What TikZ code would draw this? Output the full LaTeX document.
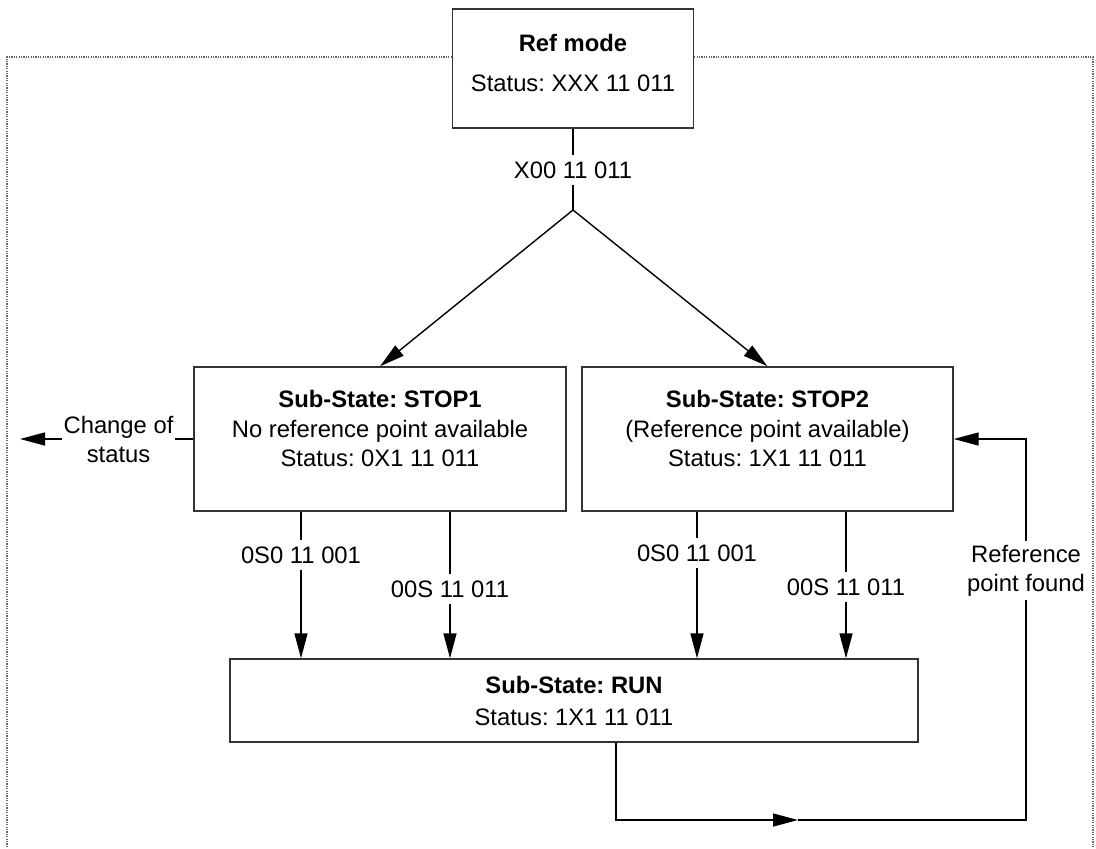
\documentclass[tikz,border=0pt]{standalone}
\usepackage{fontspec}
\setmainfont{Liberation Sans}
\usepackage{tikz}
\usetikzlibrary{arrows.meta, positioning}
\frenchspacing

\begin{document}
\begin{tikzpicture}[
    x=0.5pt, y=-0.5pt, line width=0.7pt,
    every node/.style={font=\fontsize{11.9}{14.5}\selectfont},
    box/.style={draw=black!80, inner sep=0pt},
    txt/.style={align=center, inner sep=0pt},
    lbl/.style={inner xsep=1pt, inner ysep=3pt},
    arrow/.style={-{Triangle[length=12.5pt, width=6.5pt]}},
    frame/.style={draw=black!60, line width=0.6pt, dash pattern=on 0.6pt off 0.6pt}
]
\useasboundingbox (0,0) rectangle (1096,848);

% Ref mode
\node[box, minimum width=120.5pt, minimum height=59.5pt] (refmode) at (573,68.5) {};
\node[txt] (reftxt) at (573,63) {\textbf{Ref mode}\\[5.5pt]Status: XXX 11 011};

% Rahmen
\coordinate (frametl) at (7,57);
\coordinate (frametr) at (1093,57);
\draw[frame] (refmode.west |- frametl) -- (frametl) -- (7,848);
\draw[frame] (refmode.east |- frametr) -- (frametr) -- (1093,848);

% STOP1
\node[box, minimum width=186pt, minimum height=72pt] (stopone) at (380,439) {};
\node[txt] (stoponetxt) at (380,428)
    {\textbf{Sub-State: STOP1}\\[0.5pt]No reference point available\\Status: 0X1 11 011};

% STOP2
\node[box, minimum width=185.5pt, minimum height=72pt] (stoptwo) at (767.5,439) {};
\node[txt] (stoptwotxt) at (767.5,428)
    {\textbf{Sub-State: STOP2}\\[0.5pt](Reference point available)\\Status: 1X1 11 011};

% RUN
\node[box, minimum width=344pt, minimum height=41.5pt] (run) at (574,700.5) {};
\node[txt] (runtxt) at (574,701) {\textbf{Sub-State: RUN}\\[1.5pt]Status: 1X1 11 011};

% Verzweigung
\coordinate (fork) at (573,210);
\node[lbl] (forklbl) at (573,170) {X00 11 011};
\draw (refmode) -- (forklbl) -- (fork);
\draw[arrow] (fork) -- (stopone.north);
\draw[arrow] (fork) -- (stoptwo.north);

% Change of status
\node[lbl, inner xsep=0.5pt, align=center] (chglbl) at (118.5,439) {Change of\\status};
\coordinate (chgend) at (20,439);
\draw (stopone.west) -- (chglbl);
\draw[arrow] (chglbl) -- (chgend);

% STOP1/STOP2 -> RUN
\node[lbl] (s1a) at (301,555) {0S0 11 001};
\node[lbl] (s1b) at (450,589) {00S 11 011};
\node[lbl] (s2a) at (697,553) {0S0 11 001};
\node[lbl] (s2b) at (846,587) {00S 11 011};
\draw (s1a |- stopone.south) -- (s1a);
\draw[arrow] (s1a) -- (s1a |- run.north);
\draw (s1b |- stopone.south) -- (s1b);
\draw[arrow] (s1b) -- (s1b |- run.north);
\draw (s2a |- stoptwo.south) -- (s2a);
\draw[arrow] (s2a) -- (s2a |- run.north);
\draw (s2b |- stoptwo.south) -- (s2b);
\draw[arrow] (s2b) -- (s2b |- run.north);

% Reference point found
\node[lbl, inner ysep=1.5pt, align=center] (reflbl) at (1026,570.5) {Reference\\point found};
\coordinate (loopbl) at (616,820);
\coordinate (looptip) at (798,820);
\coordinate (loopbr) at (1026,820);
\coordinate (looptr) at (1026,439);
\draw[arrow] ([xshift=21pt]run.south) -- (loopbl) -- (looptip);
\draw (looptip) -- (loopbr) -- (reflbl);
\draw[arrow] (reflbl) -- (looptr) -- (stoptwo.east);

\end{tikzpicture}
\end{document}
